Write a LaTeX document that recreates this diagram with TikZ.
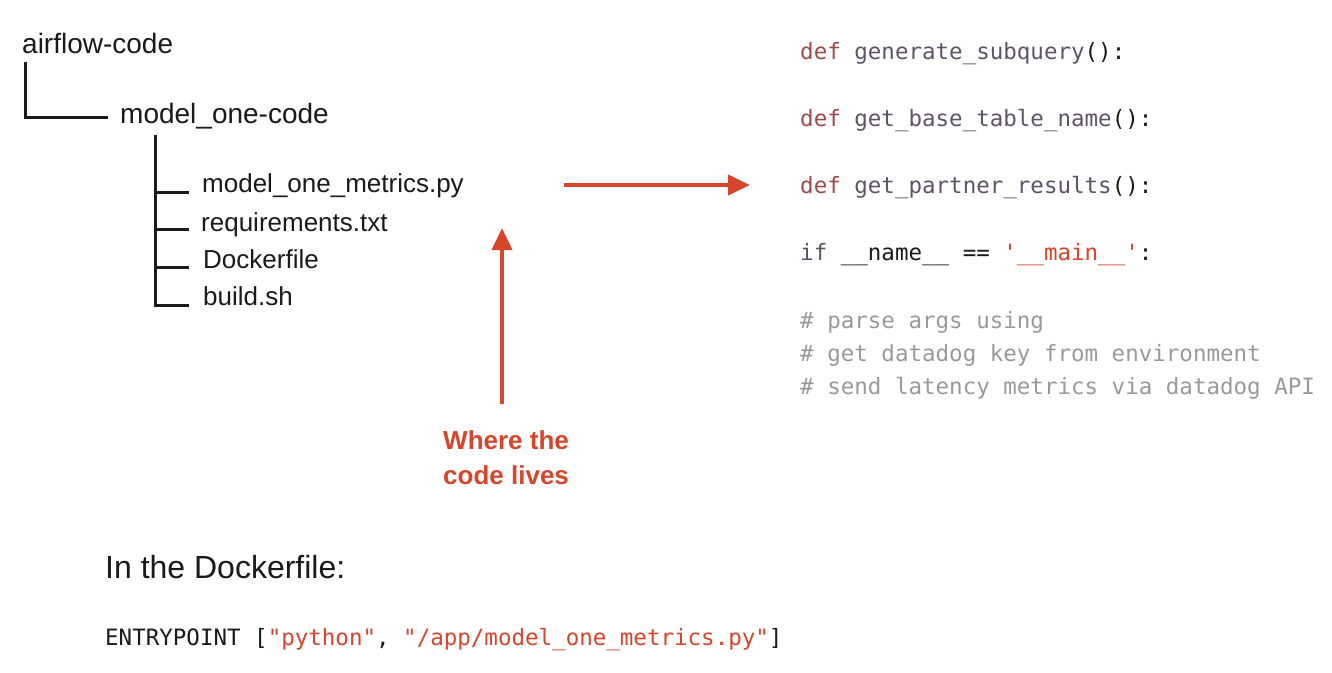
\documentclass[tikz,border=0pt]{standalone}
\usepackage{fontspec}
\setmainfont{Liberation Sans}
\setmonofont{DejaVu Sans Mono}
\usetikzlibrary{arrows.meta}
\definecolor{hred}{HTML}{D6452C}
\definecolor{kw}{HTML}{A04A48}
\definecolor{fn}{HTML}{5E5466}
\definecolor{cm}{HTML}{9A9A9A}
\definecolor{str}{HTML}{D9442C}
\definecolor{ink}{HTML}{1A1A1A}
\tikzset{
  hand/.style={font=\fontsize{26}{30}\selectfont, text=ink, anchor=base west, inner sep=0pt},
  handbig/.style={hand, font=\fontsize{28}{32}\selectfont},
  handred/.style={font=\bfseries\fontsize{26}{35}\selectfont, text=hred, align=left, anchor=north west, inner sep=0pt},
  code/.style={font=\ttfamily\fontsize{22.5}{27}\selectfont, anchor=base west, inner sep=0pt},
  tree/.style={line width=3pt, ink},
  redarrow/.style={line width=4pt, hred, -{Triangle[length=22pt,width=20pt]}},
  heading/.style={font=\fontsize{32}{38}\selectfont, text=ink, anchor=base west, inner sep=0pt}
}
\newcommand{\us}{\_}
\begin{document}
\begin{tikzpicture}[x=1pt,y=-1pt]
\useasboundingbox[fill=white] (0,0) rectangle (1332,672);
% tree
\node[handbig] (root) at (22,53) {airflow-code};
\node[handbig] (sub) at (120,123) {model\_one-code};
\node[hand] (f1) at (202,192) {model\_one\_metrics.py};
\node[hand] (f2) at (201,231) {requirements.txt};
\node[hand] (f3) at (203,268) {Dockerfile};
\node[hand] (f4) at (203,305) {build.sh};
\coordinate (r0) at (25,62);
\coordinate (r1) at (25,117);
\coordinate (r2) at (108,117);
\draw[tree] (r0) -- (r1) -- (r2);
\coordinate (s0) at (155,135);
\coordinate (s4) at (155,305);
\draw[tree] (s0) -- (s4) -- (189,305);
\draw[tree] (155,192) -- (189,192);
\draw[tree] (155,229) -- (189,229);
\draw[tree] (155,267) -- (189,267);
% code
\node[code] (c1) at (800,59) {\textcolor{kw}{def} \textcolor{fn}{generate\us subquery}\textcolor{ink}{():}};
\node[code] (c2) at (800,126) {\textcolor{kw}{def} \textcolor{fn}{get\us base\us table\us name}\textcolor{ink}{():}};
\node[code] (c3) at (800,193) {\textcolor{kw}{def} \textcolor{fn}{get\us partner\us results}\textcolor{ink}{():}};
\node[code] (c4) at (800,260) {\textcolor{fn}{if} \textcolor{ink}{\us\us name\us\us\ ==} \textcolor{str}{\symbol{39}\us\us main\us\us\symbol{39}}\textcolor{ink}{:}};
\node[code, text=cm] (c5) at (800,328) {\# parse args using};
\node[code, text=cm] (c6) at (800,361) {\# get datadog key from environment};
\node[code, text=cm] (c7) at (800,394) {\# send latency metrics via datadog API};
% arrows
\coordinate (a0) at (564,185);
\coordinate (a1) at (750,185);
\draw[redarrow] (a0) -- (a1);
\node[handred] (lbl) at (443,430) {Where the\\code lives};
\coordinate (b0) at (502,404);
\coordinate (b1) at (502,228);
\draw[redarrow] (b0) -- (b1);
% bottom
\node[heading] (h) at (105,578) {In the Dockerfile:};
\node[code] (ep) at (105,645) {\textcolor{ink}{ENTRYPOINT [}\textcolor{str}{\symbol{34}python\symbol{34}}\textcolor{ink}{, }\textcolor{str}{\symbol{34}/app/model\us one\us metrics.py\symbol{34}}\textcolor{ink}{]}};
\end{tikzpicture}
\end{document}
